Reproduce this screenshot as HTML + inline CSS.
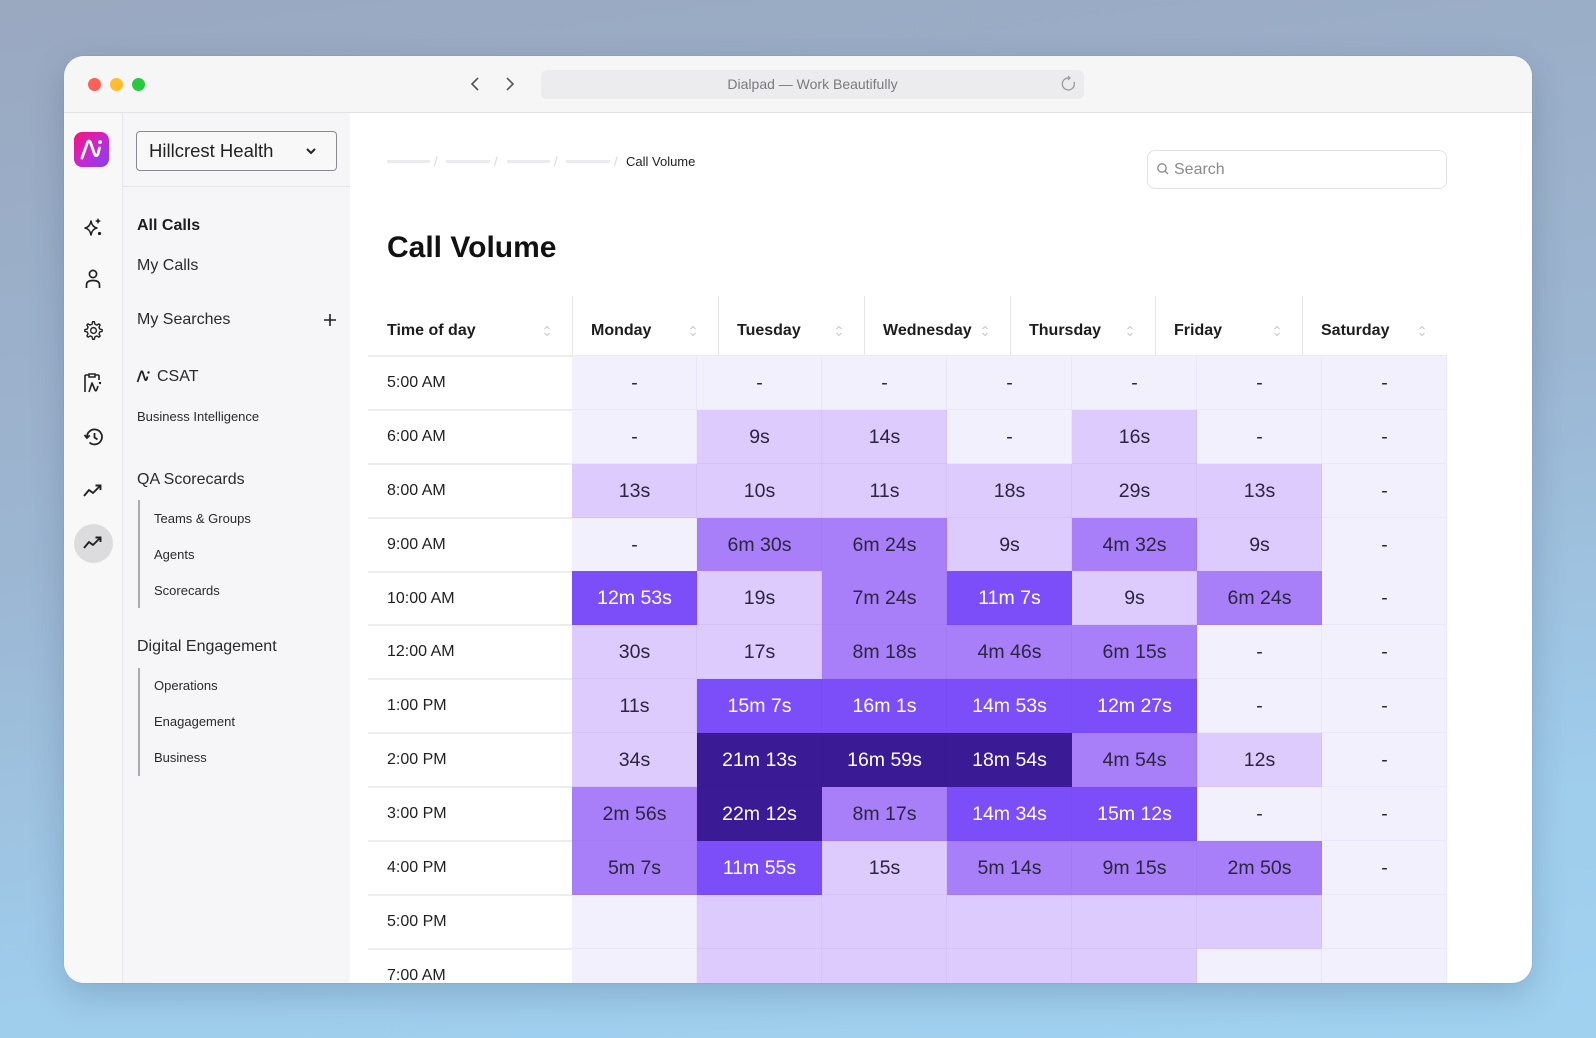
<!DOCTYPE html>
<html><head><meta charset="utf-8">
<style>
*{margin:0;padding:0;box-sizing:border-box}
html,body{width:1596px;height:1038px;overflow:hidden}
body{font-family:"Liberation Sans",sans-serif;background:linear-gradient(172deg,#9aa8c0 0%,#9cb6d2 45%,#9fcdec 80%,#a0d2f0 100%);position:relative;color:#1d1d1f}
.win{position:absolute;left:64px;top:56px;width:1468px;height:927px;border-radius:20px;overflow:hidden;background:#fff;box-shadow:0 12px 34px rgba(40,60,90,.22),0 0 0 1px rgba(0,0,0,.03)}
.abs{position:absolute}
.tb{left:0;top:0;width:1468px;height:57px;background:#f6f6f7;border-bottom:1px solid #e2e2e5}
.dot{width:13px;height:13px;border-radius:50%;top:22px}
.url{left:477px;top:14px;width:543px;height:29px;background:#ececee;border-radius:6px;text-align:center;line-height:29px;font-size:14px;color:#7a7a7e}
.rail{left:0;top:57px;width:59px;height:870px;background:#f8f8f9;border-right:1px solid #e6e6e8}
.side{left:59px;top:57px;width:227px;height:870px;background:#f6f6f8}
.t{position:absolute;white-space:nowrap}
.s16{font-size:16px;height:20px;line-height:20px}
.s13{font-size:13px;height:16px;line-height:16px;color:#2a2a2c}
.vl{width:2px;background:#ababaf}
.hd{font-size:16px;font-weight:bold;height:20px;line-height:20px}
.cell{position:absolute;width:125px;height:54px;text-align:center;line-height:54px;font-size:19.5px;color:#2b2540;box-shadow:inset -1px -1px 0 rgba(60,30,120,.045)}
.l0{background:#f3f0fe}
.l1{background:#dccbfc}
.l2{background:#a87ff8}
.l3{background:#7b4ef9;color:#fff}
.l4{background:#3b1a96;color:#fff}
.rowlab{position:absolute;left:323px;font-size:16px;height:20px;line-height:20px;color:#1f1f22}
.rsep{position:absolute;left:304px;width:204px;height:2px;background:#ededf0}
.hdiv{position:absolute;top:240px;width:1px;height:60px;background:#e6e6e9}
.sort{position:absolute;top:268px;width:8px;height:14px}
</style></head><body>
<div class="win">
  <div class="abs tb"></div>
  <div class="abs dot" style="left:24px;background:#fe5f57"></div>
  <div class="abs dot" style="left:46px;background:#febc2e"></div>
  <div class="abs dot" style="left:68px;background:#28c840"></div>
  <svg class="abs" style="left:405px;top:20px" width="14" height="16" viewBox="0 0 14 16"><path d="M9 2 L3 8 L9 14" fill="none" stroke="#555" stroke-width="1.6"/></svg>
  <svg class="abs" style="left:439px;top:20px" width="14" height="16" viewBox="0 0 14 16"><path d="M4 2 L10 8 L4 14" fill="none" stroke="#555" stroke-width="1.6"/></svg>
  <div class="abs url">Dialpad — Work Beautifully</div>
  <svg class="abs" style="left:996px;top:19px" width="18" height="20" viewBox="0 0 18 20"><path d="M9 3 A6 6 0 1 0 14 7" fill="none" stroke="#999" stroke-width="1.3"/><path d="M8 1 L10 3 L8 5" fill="none" stroke="#999" stroke-width="1.2"/></svg>

  <div class="abs rail"></div>
  <div class="abs side"></div>
  <div class="abs" style="left:59px;top:130px;width:227px;height:1px;background:#e6e6e9"></div>

  <!-- logo -->
  <svg class="abs" style="left:10px;top:76px" width="35" height="35" viewBox="0 0 35 35">
    <defs><linearGradient id="lg" x1="0" y1="0" x2="1" y2="1"><stop offset="0" stop-color="#f6137a"/><stop offset="0.55" stop-color="#c32ad2"/><stop offset="1" stop-color="#7d42f6"/></linearGradient></defs>
    <rect width="35" height="35" rx="8" fill="url(#lg)"/>
    <path d="M8 26 L13.5 10.5 Q15 7.5 16.5 10.5 L20.5 22 Q22 25.5 24 22 L25.5 16" fill="none" stroke="#fff" stroke-width="2.8" stroke-linecap="round" stroke-linejoin="round"/>
    <circle cx="26" cy="10" r="1.9" fill="#fff"/>
  </svg>

  <!-- rail icons -->
  <svg class="abs" style="left:19px;top:161px" width="20" height="20" viewBox="0 0 20 20"><path d="M8 4 Q9 10 14 11 Q9 12 8 18 Q7 12 2 11 Q7 10 8 4Z" fill="none" stroke="#222" stroke-width="1.6" stroke-linejoin="round"/><path d="M15 1 L16 3 L18 4 L16 5 L15 7 L14 5 L12 4 L14 3Z" fill="#222"/><circle cx="16.5" cy="16.5" r="1.6" fill="#222"/></svg>
  <svg class="abs" style="left:20px;top:212px" width="18" height="22" viewBox="0 0 18 22"><circle cx="9" cy="6" r="3.6" fill="none" stroke="#222" stroke-width="1.7"/><path d="M2.5 20 L2.5 17 Q2.5 12.5 9 12.5 Q15.5 12.5 15.5 17 L15.5 20" fill="none" stroke="#222" stroke-width="1.7"/></svg>
  <svg class="abs" style="left:19px;top:264px" width="21" height="21" viewBox="0 0 24 24"><path d="M12 2.5 L14 2.5 L14.6 5.2 L16.8 6.3 L19.2 4.9 L20.6 6.3 L19.2 8.7 L20.2 10.9 L22.9 11.5 L22.9 13.5 L20.2 14.1 L19.2 16.3 L20.6 18.7 L19.2 20.1 L16.8 18.7 L14.6 19.8 L14 22.5 L12 22.5 L11.4 19.8 L9.2 18.7 L6.8 20.1 L5.4 18.7 L6.8 16.3 L5.8 14.1 L3.1 13.5 L3.1 11.5 L5.8 10.9 L6.8 8.7 L5.4 6.3 L6.8 4.9 L9.2 6.3 L11.4 5.2Z" fill="none" stroke="#222" stroke-width="1.6" stroke-linejoin="round" transform="translate(-1,-0.5)"/><circle cx="12" cy="12" r="3.3" fill="none" stroke="#222" stroke-width="1.6"/></svg>
  <svg class="abs" style="left:18px;top:316px" width="22" height="22" viewBox="0 0 22 22"><path d="M7 3 L4 3 Q3 3 3 4 L3 20" fill="none" stroke="#222" stroke-width="1.6"/><path d="M7 2 L13 2 L13 5 L7 5Z" fill="none" stroke="#222" stroke-width="1.5"/><path d="M13 3 L16 3 Q17 3 17 4 L17 8" fill="none" stroke="#222" stroke-width="1.6"/><path d="M7 20 L10 11 L13 18 Q14 20 15 17 L16 14" fill="none" stroke="#222" stroke-width="1.6" stroke-linejoin="round"/><circle cx="18" cy="11" r="1.2" fill="#222"/></svg>
  <svg class="abs" style="left:19px;top:371px" width="21" height="20" viewBox="0 0 21 20"><path d="M4 10 A7.5 7.5 0 1 1 6.5 15.5" fill="none" stroke="#222" stroke-width="1.8"/><path d="M1.5 8 L4 11 L6.8 8.4" fill="none" stroke="#222" stroke-width="1.8"/><path d="M11.5 6 L11.5 10.5 L14.5 12.5" fill="none" stroke="#222" stroke-width="1.8"/></svg>
  <svg class="abs" style="left:19px;top:427px" width="20" height="16" viewBox="0 0 20 16"><path d="M1 13 L6 7 L10 10 L17 3" fill="none" stroke="#222" stroke-width="1.9" stroke-linejoin="round"/><path d="M12.5 2.5 L17.5 2.5 L17.5 7" fill="none" stroke="#222" stroke-width="1.9"/></svg>
  <div class="abs" style="left:9.5px;top:467.5px;width:39px;height:39px;border-radius:50%;background:#dcdcde"></div>
  <svg class="abs" style="left:19px;top:479px" width="20" height="16" viewBox="0 0 20 16"><path d="M1 13 L6 7 L10 10 L17 3" fill="none" stroke="#222" stroke-width="1.9" stroke-linejoin="round"/><path d="M12.5 2.5 L17.5 2.5 L17.5 7" fill="none" stroke="#222" stroke-width="1.9"/></svg>

  <!-- dropdown -->
  <div class="abs" style="left:72px;top:75px;width:201px;height:40px;border:1.5px solid #8a8a8e;border-radius:4px;background:#f8f8f9"></div>
  <div class="t" style="left:85px;top:84px;font-size:18.5px;height:22px;line-height:22px;color:#222">Hillcrest Health</div>
  <svg class="abs" style="left:240px;top:88px" width="14" height="14" viewBox="0 0 14 14"><path d="M3 5 L7 9 L11 5" fill="none" stroke="#222" stroke-width="2"/></svg>

  <!-- sidebar items -->
  <div class="t s16" style="left:73px;top:160px;font-weight:bold">All Calls</div>
  <div class="t s16" style="left:73px;top:200px;color:#2a2a2c">My Calls</div>
  <div class="t s16" style="left:73px;top:254px;color:#2a2a2c">My Searches</div>
  <svg class="abs" style="left:259px;top:257px" width="14" height="14" viewBox="0 0 14 14"><path d="M7 1 L7 13 M1 7 L13 7" stroke="#222" stroke-width="1.6"/></svg>
  <svg class="abs" style="left:72px;top:314px" width="16" height="13" viewBox="0 0 16 13"><path d="M1.5 12 L5 2 Q5.8 0.5 6.6 2 L9 9.5 Q9.8 11 10.6 9.5 L11.5 6.5" fill="none" stroke="#222" stroke-width="1.8" stroke-linejoin="round"/><circle cx="12.5" cy="2.5" r="1.2" fill="#222"/></svg>
  <div class="t s16" style="left:93px;top:311px;color:#2a2a2c">CSAT</div>
  <div class="t s13" style="left:73px;top:353px">Business Intelligence</div>
  <div class="t s16" style="left:73px;top:414px;color:#2a2a2c">QA Scorecards</div>
  <div class="abs vl" style="left:74px;top:444px;height:108px"></div>
  <div class="t s13" style="left:90px;top:455px">Teams &amp; Groups</div>
  <div class="t s13" style="left:90px;top:491px">Agents</div>
  <div class="t s13" style="left:90px;top:527px">Scorecards</div>
  <div class="t s16" style="left:73px;top:581px;color:#2a2a2c">Digital Engagement</div>
  <div class="abs vl" style="left:74px;top:612px;height:108px"></div>
  <div class="t s13" style="left:90px;top:622px">Operations</div>
  <div class="t s13" style="left:90px;top:658px">Enagagement</div>
  <div class="t s13" style="left:90px;top:694px">Business</div>

  <!-- breadcrumb -->
  <div class="abs" style="left:323px;top:104px;width:43px;height:3px;background:#ececee"></div>
  <div class="abs" style="left:382px;top:104px;width:44px;height:3px;background:#ececee"></div>
  <div class="abs" style="left:443px;top:104px;width:43px;height:3px;background:#ececee"></div>
  <div class="abs" style="left:502px;top:104px;width:44px;height:3px;background:#ececee"></div>
  <div class="t" style="left:370px;top:98px;font-size:13px;line-height:16px;color:#d8d8dc">/</div>
  <div class="t" style="left:430px;top:98px;font-size:13px;line-height:16px;color:#d8d8dc">/</div>
  <div class="t" style="left:490px;top:98px;font-size:13px;line-height:16px;color:#d8d8dc">/</div>
  <div class="t" style="left:550px;top:98px;font-size:13px;line-height:16px;color:#d8d8dc">/</div>
  <div class="t" style="left:562px;top:98px;font-size:13px;line-height:16px;color:#1f1f22">Call Volume</div>

  <!-- search -->
  <div class="abs" style="left:1083px;top:94px;width:300px;height:39px;border:1px solid #e3e3e7;border-radius:8px;background:#fff"></div>
  <svg class="abs" style="left:1092px;top:106px" width="14" height="14" viewBox="0 0 14 14"><circle cx="6" cy="6" r="4.2" fill="none" stroke="#8a8a8e" stroke-width="1.3"/><path d="M9 9 L12 12" stroke="#8a8a8e" stroke-width="1.3"/></svg>
  <div class="t" style="left:1110px;top:104px;font-size:16px;line-height:20px;color:#8a8a8e">Search</div>

  <!-- title -->
  <div class="t" style="left:323px;top:174px;font-size:30px;font-weight:bold;line-height:36px;height:36px;color:#111">Call Volume</div>

  <!-- table header -->
  <div class="hdiv" style="left:508px"></div>
  <div class="hdiv" style="left:654px"></div>
  <div class="hdiv" style="left:800px"></div>
  <div class="hdiv" style="left:946px"></div>
  <div class="hdiv" style="left:1091px"></div>
  <div class="hdiv" style="left:1238px"></div>
  <div class="abs" style="left:304px;top:299px;width:1079px;height:2px;background:#ededf0"></div>
  <div class="t hd" style="left:323px;top:265px">Time of day</div>
  <div class="t hd" style="left:527px;top:265px">Monday</div>
  <div class="t hd" style="left:673px;top:265px">Tuesday</div>
  <div class="t hd" style="left:819px;top:265px">Wednesday</div>
  <div class="t hd" style="left:965px;top:265px">Thursday</div>
  <div class="t hd" style="left:1110px;top:265px">Friday</div>
  <div class="t hd" style="left:1257px;top:265px">Saturday</div>
  <svg class="sort" style="left:479px" viewBox="0 0 8 14"><path d="M1.5 5 L4 2.5 L6.5 5 M1.5 9 L4 11.5 L6.5 9" fill="none" stroke="#c8c8cd" stroke-width="1.1"/></svg>
  <svg class="sort" style="left:625px" viewBox="0 0 8 14"><path d="M1.5 5 L4 2.5 L6.5 5 M1.5 9 L4 11.5 L6.5 9" fill="none" stroke="#c8c8cd" stroke-width="1.1"/></svg>
  <svg class="sort" style="left:771px" viewBox="0 0 8 14"><path d="M1.5 5 L4 2.5 L6.5 5 M1.5 9 L4 11.5 L6.5 9" fill="none" stroke="#c8c8cd" stroke-width="1.1"/></svg>
  <svg class="sort" style="left:917px" viewBox="0 0 8 14"><path d="M1.5 5 L4 2.5 L6.5 5 M1.5 9 L4 11.5 L6.5 9" fill="none" stroke="#c8c8cd" stroke-width="1.1"/></svg>
  <svg class="sort" style="left:1062px" viewBox="0 0 8 14"><path d="M1.5 5 L4 2.5 L6.5 5 M1.5 9 L4 11.5 L6.5 9" fill="none" stroke="#c8c8cd" stroke-width="1.1"/></svg>
  <svg class="sort" style="left:1209px" viewBox="0 0 8 14"><path d="M1.5 5 L4 2.5 L6.5 5 M1.5 9 L4 11.5 L6.5 9" fill="none" stroke="#c8c8cd" stroke-width="1.1"/></svg>
  <svg class="sort" style="left:1354px" viewBox="0 0 8 14"><path d="M1.5 5 L4 2.5 L6.5 5 M1.5 9 L4 11.5 L6.5 9" fill="none" stroke="#c8c8cd" stroke-width="1.1"/></svg>

  <!-- row labels -->
  <div class="rowlab" style="top:317px">5:00 AM</div>
  <div class="rowlab" style="top:371px">6:00 AM</div>
  <div class="rowlab" style="top:425px">8:00 AM</div>
  <div class="rowlab" style="top:479px">9:00 AM</div>
  <div class="rowlab" style="top:533px">10:00 AM</div>
  <div class="rowlab" style="top:586px">12:00 AM</div>
  <div class="rowlab" style="top:640px">1:00 PM</div>
  <div class="rowlab" style="top:694px">2:00 PM</div>
  <div class="rowlab" style="top:748px">3:00 PM</div>
  <div class="rowlab" style="top:802px">4:00 PM</div>
  <div class="rowlab" style="top:856px">5:00 PM</div>
  <div class="rowlab" style="top:910px">7:00 AM</div>
  <div class="rsep" style="top:353px"></div>
  <div class="rsep" style="top:407px"></div>
  <div class="rsep" style="top:461px"></div>
  <div class="rsep" style="top:515px"></div>
  <div class="rsep" style="top:568px"></div>
  <div class="rsep" style="top:622px"></div>
  <div class="rsep" style="top:676px"></div>
  <div class="rsep" style="top:730px"></div>
  <div class="rsep" style="top:784px"></div>
  <div class="rsep" style="top:838px"></div>
  <div class="rsep" style="top:892px"></div>

  <!-- cells -->
  <div class="cell l0" style="left:508px;top:300px">-</div><div class="cell l0" style="left:633px;top:300px">-</div><div class="cell l0" style="left:758px;top:300px">-</div><div class="cell l0" style="left:883px;top:300px">-</div><div class="cell l0" style="left:1008px;top:300px">-</div><div class="cell l0" style="left:1133px;top:300px">-</div><div class="cell l0" style="left:1258px;top:300px">-</div>
  <div class="cell l0" style="left:508px;top:354px">-</div><div class="cell l1" style="left:633px;top:354px">9s</div><div class="cell l1" style="left:758px;top:354px">14s</div><div class="cell l0" style="left:883px;top:354px">-</div><div class="cell l1" style="left:1008px;top:354px">16s</div><div class="cell l0" style="left:1133px;top:354px">-</div><div class="cell l0" style="left:1258px;top:354px">-</div>
  <div class="cell l1" style="left:508px;top:408px">13s</div><div class="cell l1" style="left:633px;top:408px">10s</div><div class="cell l1" style="left:758px;top:408px">11s</div><div class="cell l1" style="left:883px;top:408px">18s</div><div class="cell l1" style="left:1008px;top:408px">29s</div><div class="cell l1" style="left:1133px;top:408px">13s</div><div class="cell l0" style="left:1258px;top:408px">-</div>
  <div class="cell l0" style="left:508px;top:462px">-</div><div class="cell l2" style="left:633px;top:462px">6m 30s</div><div class="cell l2" style="left:758px;top:462px">6m 24s</div><div class="cell l1" style="left:883px;top:462px">9s</div><div class="cell l2" style="left:1008px;top:462px">4m 32s</div><div class="cell l1" style="left:1133px;top:462px">9s</div><div class="cell l0" style="left:1258px;top:462px">-</div>
  <div class="cell l3" style="left:508px;top:515px">12m 53s</div><div class="cell l1" style="left:633px;top:515px">19s</div><div class="cell l2" style="left:758px;top:515px">7m 24s</div><div class="cell l3" style="left:883px;top:515px">11m 7s</div><div class="cell l1" style="left:1008px;top:515px">9s</div><div class="cell l2" style="left:1133px;top:515px">6m 24s</div><div class="cell l0" style="left:1258px;top:515px">-</div>
  <div class="cell l1" style="left:508px;top:569px">30s</div><div class="cell l1" style="left:633px;top:569px">17s</div><div class="cell l2" style="left:758px;top:569px">8m 18s</div><div class="cell l2" style="left:883px;top:569px">4m 46s</div><div class="cell l2" style="left:1008px;top:569px">6m 15s</div><div class="cell l0" style="left:1133px;top:569px">-</div><div class="cell l0" style="left:1258px;top:569px">-</div>
  <div class="cell l1" style="left:508px;top:623px">11s</div><div class="cell l3" style="left:633px;top:623px">15m 7s</div><div class="cell l3" style="left:758px;top:623px">16m 1s</div><div class="cell l3" style="left:883px;top:623px">14m 53s</div><div class="cell l3" style="left:1008px;top:623px">12m 27s</div><div class="cell l0" style="left:1133px;top:623px">-</div><div class="cell l0" style="left:1258px;top:623px">-</div>
  <div class="cell l1" style="left:508px;top:677px">34s</div><div class="cell l4" style="left:633px;top:677px">21m 13s</div><div class="cell l4" style="left:758px;top:677px">16m 59s</div><div class="cell l4" style="left:883px;top:677px">18m 54s</div><div class="cell l2" style="left:1008px;top:677px">4m 54s</div><div class="cell l1" style="left:1133px;top:677px">12s</div><div class="cell l0" style="left:1258px;top:677px">-</div>
  <div class="cell l2" style="left:508px;top:731px">2m 56s</div><div class="cell l4" style="left:633px;top:731px">22m 12s</div><div class="cell l2" style="left:758px;top:731px">8m 17s</div><div class="cell l3" style="left:883px;top:731px">14m 34s</div><div class="cell l3" style="left:1008px;top:731px">15m 12s</div><div class="cell l0" style="left:1133px;top:731px">-</div><div class="cell l0" style="left:1258px;top:731px">-</div>
  <div class="cell l2" style="left:508px;top:785px">5m 7s</div><div class="cell l3" style="left:633px;top:785px">11m 55s</div><div class="cell l1" style="left:758px;top:785px">15s</div><div class="cell l2" style="left:883px;top:785px">5m 14s</div><div class="cell l2" style="left:1008px;top:785px">9m 15s</div><div class="cell l2" style="left:1133px;top:785px">2m 50s</div><div class="cell l0" style="left:1258px;top:785px">-</div>
  <div class="cell l0" style="left:508px;top:839px"></div><div class="cell l1" style="left:633px;top:839px"></div><div class="cell l1" style="left:758px;top:839px"></div><div class="cell l1" style="left:883px;top:839px"></div><div class="cell l1" style="left:1008px;top:839px"></div><div class="cell l1" style="left:1133px;top:839px"></div><div class="cell l0" style="left:1258px;top:839px"></div>
  <div class="cell l0" style="left:508px;top:893px"></div><div class="cell l1" style="left:633px;top:893px"></div><div class="cell l1" style="left:758px;top:893px"></div><div class="cell l1" style="left:883px;top:893px"></div><div class="cell l1" style="left:1008px;top:893px"></div><div class="cell l0" style="left:1133px;top:893px"></div><div class="cell l0" style="left:1258px;top:893px"></div>
</div>
</body></html>
